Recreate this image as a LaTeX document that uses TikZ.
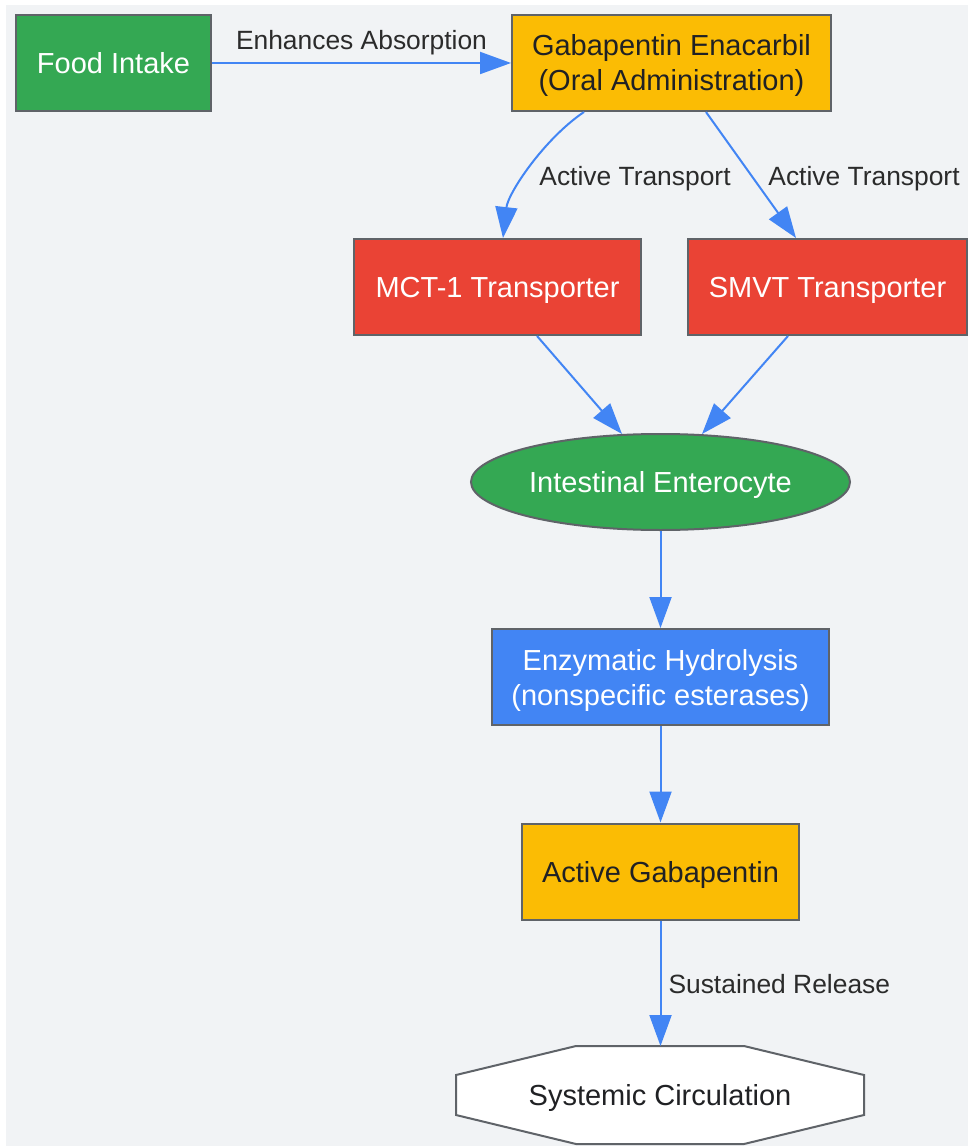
\documentclass[tikz,border=0pt]{standalone}
\usepackage{fontspec}
\setmainfont{Liberation Sans}
\usetikzlibrary{arrows.meta,shapes.geometric,calc}
\definecolor{bgcol}{HTML}{F1F3F5}
\definecolor{bordercol}{HTML}{5F6368}
\definecolor{edgecol}{HTML}{4285F4}
\definecolor{gcol}{HTML}{34A853}
\definecolor{ycol}{HTML}{FBBC04}
\definecolor{rcol}{HTML}{EA4335}
\definecolor{bcol}{HTML}{4285F4}
\definecolor{darktext}{HTML}{202124}
\definecolor{labcol}{HTML}{2B2B2B}
\begin{document}
\begin{tikzpicture}[x=1pt,y=-1pt,
  box/.style={draw=bordercol, line width=2pt, minimum height=96pt, inner sep=0pt,
    font=\fontsize{29}{35}\selectfont, align=center, text height=21pt, text depth=0pt},
  twoline/.style={text height=56pt, text depth=0pt},
  conn/.style={draw=edgecol, line width=2pt, -{Triangle[length=31pt,width=22pt]}},
  lab/.style={font=\fontsize{26.4}{30}\selectfont, text=labcol, inner sep=0pt,
    text height=19pt, text depth=0pt}]
\useasboundingbox (0,0) rectangle (968,1147);
\fill[bgcol] (6,5) rectangle (968,1146);

\node[box, fill=gcol, text=white, minimum width=195pt] (food) at (113.5,63) {Food Intake};
\node[box, twoline, fill=ycol, text=darktext, minimum width=319pt] (gab) at (671.5,63) {Gabapentin Enacarbil\\(Oral Administration)};
\node[box, fill=rcol, text=white, minimum width=287pt] (mct) at (497.5,287) {MCT-1 Transporter};
\node[box, fill=rcol, text=white, minimum width=279pt] (smvt) at (827.5,287) {SMVT Transporter};
\node[box, ellipse, fill=gcol, text=white, minimum width=379pt] (ent) at (660.5,482) {Intestinal Enterocyte};
\node[box, twoline, fill=bcol, text=white, minimum width=337pt] (enz) at (660.5,677) {Enzymatic Hydrolysis\\(nonspecific esterases)};
\node[box, fill=ycol, text=darktext, minimum width=277pt] (act) at (660.5,871.5) {Active Gabapentin};
\node[box, draw=none, minimum width=406pt] (sys) at (660,1095) {};
\filldraw[fill=white, draw=bordercol, line width=2pt, line join=miter]
  ([xshift=-84pt]sys.north) -- ([xshift=84pt]sys.north)
  -- ([yshift=20pt]sys.east) -- ([yshift=-20pt]sys.east)
  -- ([xshift=84pt]sys.south) -- ([xshift=-84pt]sys.south)
  -- ([yshift=-20pt]sys.west) -- ([yshift=20pt]sys.west) -- cycle;
\node[font=\fontsize{29}{35}\selectfont, text=darktext, inner sep=0pt, text height=21pt, text depth=0pt] (syst) at (sys.center) {Systemic Circulation};

\draw[conn] (food) -- (gab) node[lab, midway, yshift=23pt] {Enhances Absorption};
\draw[conn] ([xshift=-87.5pt]gab.south) .. controls +(-40,27) and +(5,-45) .. ([xshift=5.5pt]mct.north);
\node[lab] (l1) at (635,176) {Active Transport};
\draw[conn] ([xshift=34.5pt]gab.south) -- ([xshift=-31.5pt]smvt.north);
\node[lab] (l2) at (864,176) {Active Transport};
\draw[conn] ([xshift=39.5pt]mct.south) -- ([xshift=-38.5pt,yshift=-1pt]ent.north);
\draw[conn] ([xshift=-39.5pt]smvt.south) -- ([xshift=41.5pt,yshift=-1pt]ent.north);
\draw[conn] (ent) -- (enz);
\draw[conn] (enz) -- (act);
\draw[conn] (act.south) -- (act.south |- sys.north) node[lab, pos=0.508, right=7pt] {Sustained Release};
\end{tikzpicture}
\end{document}
